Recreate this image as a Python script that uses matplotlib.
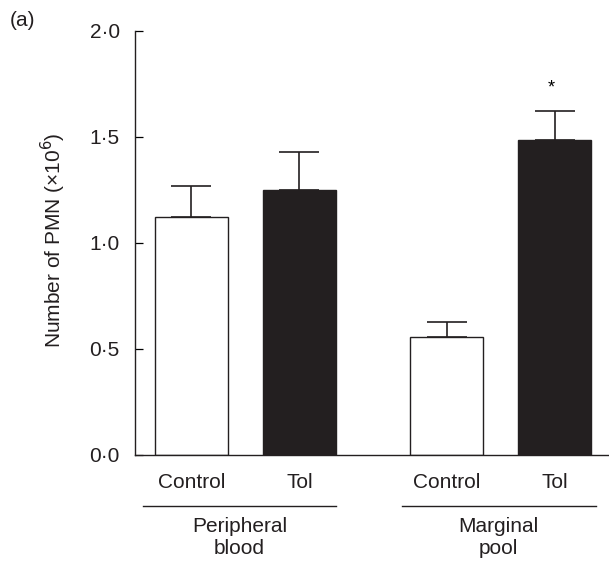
import numpy as np
import matplotlib.pyplot as plt
import matplotlib.transforms as mtransforms

plt.rcParams['font.family'] = ['Liberation Sans', 'DejaVu Sans']

conditions = ['Control', 'Tol', 'Control', 'Tol']
groups = ['Peripheral\nblood', 'Marginal\npool']
means = [1.12, 1.25, 0.557, 1.485]
sems = [0.15, 0.18, 0.07, 0.135]
colors = ['white', '#231f20', 'white', '#231f20']
yticks = [0.0, 0.5, 1.0, 1.5, 2.0]
ytick_labels = ['0·0', '0·5', '1·0', '1·5', '2·0']

x = np.array([0, 1, 2.366, 3.366])
fs = 15

fig = plt.figure(figsize=(6.09, 5.64), dpi=100)
ax = fig.add_axes([0.2217, 0.1933, 0.7783, 0.752])

ax.bar(x, means, width=0.68, color=colors, edgecolor='#231f20', linewidth=1.0, zorder=2)
ax.errorbar(x, means, yerr=[np.zeros(4), sems], fmt='none', ecolor='#231f20',
            elinewidth=1.2, capsize=14.5, capthick=1.2, zorder=1)

# significance marker
ax.text(x[3] - 0.03, means[3] + sems[3] + 0.11, '*', ha='center', va='center', fontsize=13)

ax.set_xlim(-0.523, 3.87)
ax.set_ylim(0, 2.0)
ax.set_yticks(yticks)
ax.set_yticklabels(ytick_labels, fontsize=fs, color='#231f20')
ax.tick_params(axis='y', direction='in', length=5.5, width=0.9, pad=11)
ax.set_xticks(x)
ax.set_xticklabels(conditions, fontsize=fs, color='#231f20')
ax.tick_params(axis='x', length=0, pad=13)
for s in ['top', 'right']:
    ax.spines[s].set_visible(False)
for s in ['left', 'bottom']:
    ax.spines[s].set_linewidth(1.0)
    ax.spines[s].set_color('#231f20')

trans = mtransforms.blended_transform_factory(ax.transData, ax.transAxes)
line_spans = [(-0.449, 1.338), (1.949, 3.745)]
for (x0, x1), g in zip(line_spans, groups):
    ax.plot([x0, x1], [-0.120, -0.120], color='#231f20', lw=1.0, transform=trans, clip_on=False)
    ax.text((x0 + x1) / 2, -0.146, g, transform=trans, ha='center', va='top',
            fontsize=fs, color='#231f20', linespacing=1.2)

fig.text(53 / 609, 0.574, 'Number of PMN (×10$^6$)', rotation=90, ha='center', va='center',
         fontsize=fs, color='#231f20')
fig.text(10 / 609, 1 - 20 / 564, '(a)', ha='left', va='center', fontsize=fs, color='#231f20')

fig.savefig('out.png', dpi=100)
